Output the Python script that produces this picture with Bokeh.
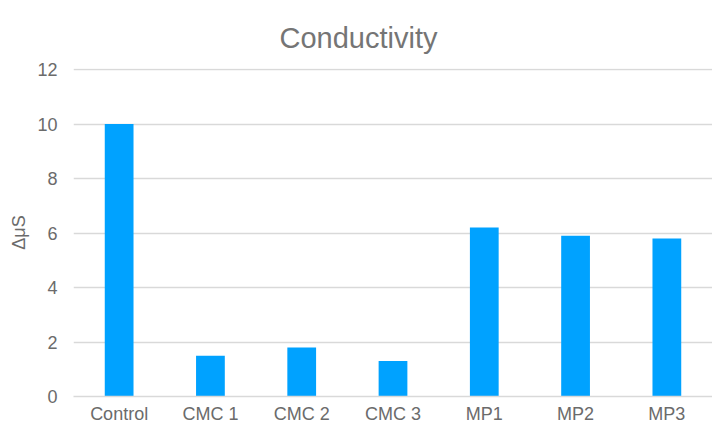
from bokeh.plotting import figure
from bokeh.models import FactorRange, Range1d, SingleIntervalTicker
from bokeh.embed import file_html
from bokeh.resources import INLINE

categories = ["Control", "CMC 1", "CMC 2", "CMC 3", "MP1", "MP2", "MP3"]
values = [10.0, 1.5, 1.8, 1.3, 6.2, 5.9, 5.8]
title_text = "Conductivity"

FONT = "Liberation Sans"
TXT = "#6b6b6b"

p = figure(width=712, height=426, output_backend="svg", toolbar_location=None,
           x_range=FactorRange(*categories), y_range=Range1d(0, 12.04),
           title=title_text)
p.min_border_left = 73
p.min_border_right = 0
p.min_border_top = 68
p.min_border_bottom = 30
p.outline_line_color = None
p.background_fill_color = "white"
p.border_fill_color = "white"

p.vbar(x=categories, top=values, width=0.315, color="#00A2FF", line_color=None)

p.title.text_font = FONT
p.title.text_font_size = "29px"
p.title.text_font_style = "normal"
p.title.text_color = "#757575"
p.title.align = "left"
p.title.offset = 206
p.title.standoff = 30

p.yaxis.ticker = SingleIntervalTicker(interval=2)
p.yaxis.axis_label = "ΔμS"
p.yaxis.axis_label_text_font = FONT
p.yaxis.axis_label_text_font_size = "18px"
p.yaxis.axis_label_text_font_style = "normal"
p.yaxis.axis_label_text_color = TXT
p.yaxis.axis_label_standoff = 5
p.yaxis.axis_line_color = None
p.yaxis.major_label_standoff = 10

for ax in (p.xaxis, p.yaxis):
    ax.major_tick_line_color = None
    ax.minor_tick_line_color = None
    ax.major_label_text_font = FONT
    ax.major_label_text_font_size = "18px"
    ax.major_label_text_color = TXT

p.xaxis.axis_line_color = "#d9d9d9"
p.xaxis.axis_line_width = 1.5
p.xaxis.major_label_standoff = 1
p.xgrid.grid_line_color = None
p.ygrid.grid_line_color = "#d9d9d9"
p.ygrid.grid_line_width = 1.5

open("out.html", "w").write(file_html(p, INLINE))
